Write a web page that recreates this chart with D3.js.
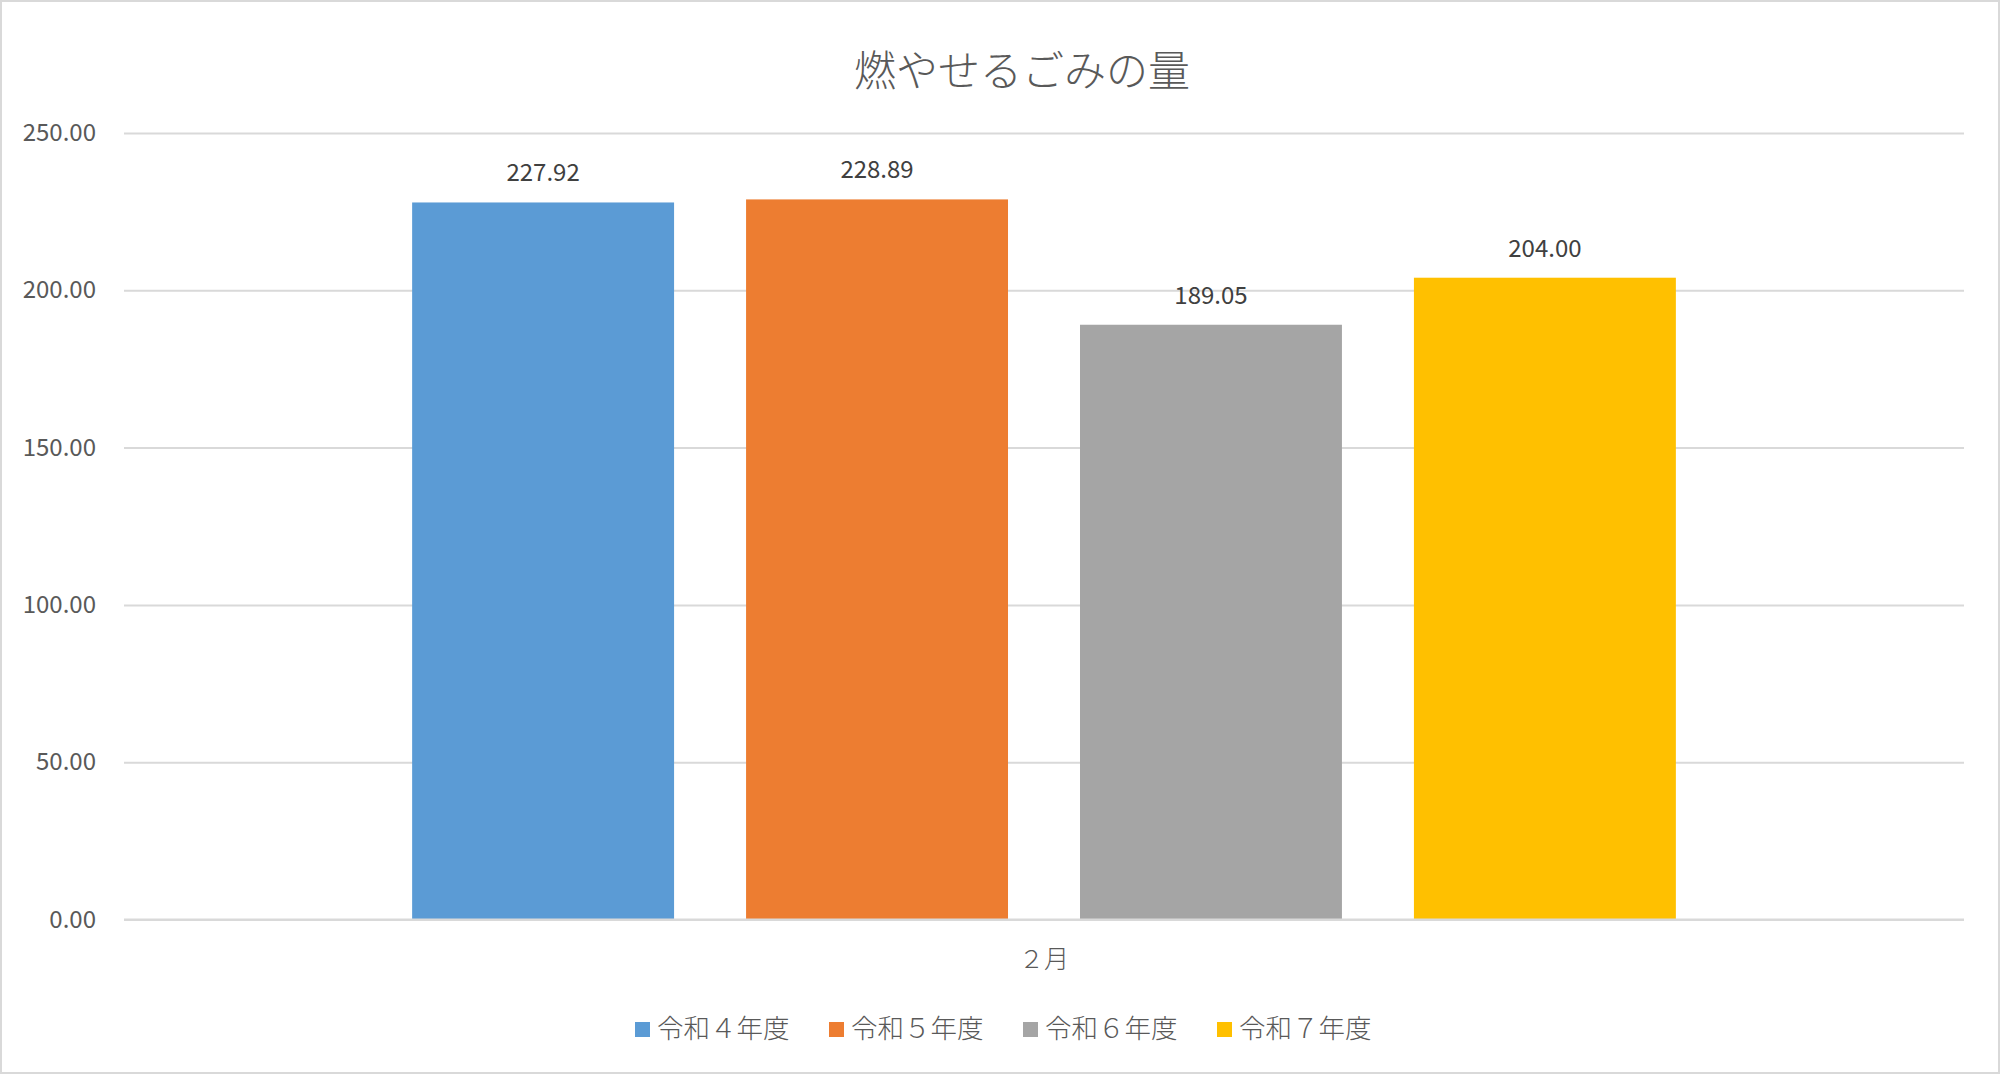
<!DOCTYPE html>
<html>
<head>
<meta charset="utf-8">
<script src="https://cdn.jsdelivr.net/npm/d3@7"></script>
<style>
  html, body { margin: 0; padding: 0; background: #fff; }
  svg text { font-family: "Noto Sans CJK JP", "Noto Sans", sans-serif; font-weight: 300; }
</style>
</head>
<body>
<svg id="chart" width="2000" height="1074"></svg>
<script>
// data
var categories = ["２月"];
var seriesNames = ["令和４年度", "令和５年度", "令和６年度", "令和７年度"];
var seriesValues = [227.92, 228.89, 189.05, 204.00];
var yTicks = [0, 50, 100, 150, 200, 250];
var chartTitle = "燃やせるごみの量";

var colors = ["#5B9BD5", "#ED7D31", "#A5A5A5", "#FFC000"];

var W = 2000, H = 1074;
var plot = { left: 124, right: 1964, top: 133, bottom: 919.5 };

var svg = d3.select("#chart");

// chart border
svg.append("rect")
    .attr("x", 1).attr("y", 1)
    .attr("width", W - 2).attr("height", H - 2)
    .attr("fill", "#fff")
    .attr("stroke", "#D9D9D9")
    .attr("stroke-width", 2);

var y = d3.scaleLinear()
    .domain([0, 250])
    .range([plot.bottom, plot.top]);

var x0 = d3.scaleBand()
    .domain(categories)
    .range([plot.left, plot.right])
    .paddingInner(0)
    .paddingOuter(0.228);

var x1 = d3.scaleBand()
    .domain(seriesNames)
    .range([0, x0.bandwidth()])
    .paddingInner(0.2156)
    .paddingOuter(0);

// gridlines + y labels
var yAxis = d3.axisLeft(y)
    .tickValues(yTicks)
    .tickFormat(d3.format(".2f"))
    .tickSize(-(plot.right - plot.left))
    .tickPadding(28);

var gy = svg.append("g")
    .attr("transform", "translate(" + plot.left + ",0)")
    .call(yAxis);
gy.select(".domain").remove();
gy.selectAll(".tick line")
    .attr("stroke", "#D9D9D9")
    .attr("stroke-width", 2);
gy.selectAll(".tick text")
    .attr("fill", "#595959")
    .style("font-weight", 400)
    .style("font-size", "24px");

// bars
var groups = svg.selectAll("g.cat")
    .data(categories)
    .enter().append("g")
    .attr("class", "cat")
    .attr("transform", function(d) { return "translate(" + x0(d) + ",0)"; });

groups.selectAll("rect")
    .data(seriesNames.map(function(n, i) { return { name: n, value: seriesValues[i], i: i }; }))
    .enter().append("rect")
    .attr("x", function(d) { return x1(d.name); })
    .attr("y", function(d) { return y(d.value); })
    .attr("width", x1.bandwidth())
    .attr("height", function(d) { return y(0) - y(d.value); })
    .attr("fill", function(d) { return colors[d.i]; });

groups.selectAll("text.val")
    .data(seriesNames.map(function(n, i) { return { name: n, value: seriesValues[i] }; }))
    .enter().append("text")
    .attr("class", "val")
    .attr("x", function(d) { return x1(d.name) + x1.bandwidth() / 2; })
    .attr("y", function(d) { return y(d.value) - 21; })
    .attr("text-anchor", "middle")
    .attr("fill", "#404040")
    .style("font-weight", 400)
    .style("font-size", "24px")
    .text(function(d) { return d3.format(".2f")(d.value); });

// axis line over bar bottoms
svg.append("line")
    .attr("x1", plot.left).attr("x2", plot.right)
    .attr("y1", y(0)).attr("y2", y(0))
    .attr("stroke", "#D9D9D9")
    .attr("stroke-width", 2);

// category label
svg.selectAll("text.cat")
    .data(categories)
    .enter().append("text")
    .attr("class", "cat")
    .attr("x", function(d) { return x0(d) + x0.bandwidth() / 2; })
    .attr("y", 968)
    .attr("text-anchor", "middle")
    .attr("fill", "#595959")
    .style("font-size", "25px")
    .text(function(d) { return d; });

// title
svg.append("text")
    .attr("x", 1022)
    .attr("y", 86)
    .attr("text-anchor", "middle")
    .attr("fill", "#595959")
    .style("font-size", "42px")
    .text(chartTitle);

// legend
var legendStart = 635, legendStep = 194;
var legend = svg.selectAll("g.legend")
    .data(seriesNames)
    .enter().append("g")
    .attr("class", "legend")
    .attr("transform", function(d, i) { return "translate(" + (legendStart + i * legendStep) + ",1022)"; });

legend.append("rect")
    .attr("width", 15).attr("height", 15)
    .attr("fill", function(d, i) { return colors[i]; });

legend.append("text")
    .attr("x", 22)
    .attr("y", 16)
    .attr("fill", "#595959")
    .style("font-size", "26.5px")
    .text(function(d) { return d; });
</script>
</body>
</html>
